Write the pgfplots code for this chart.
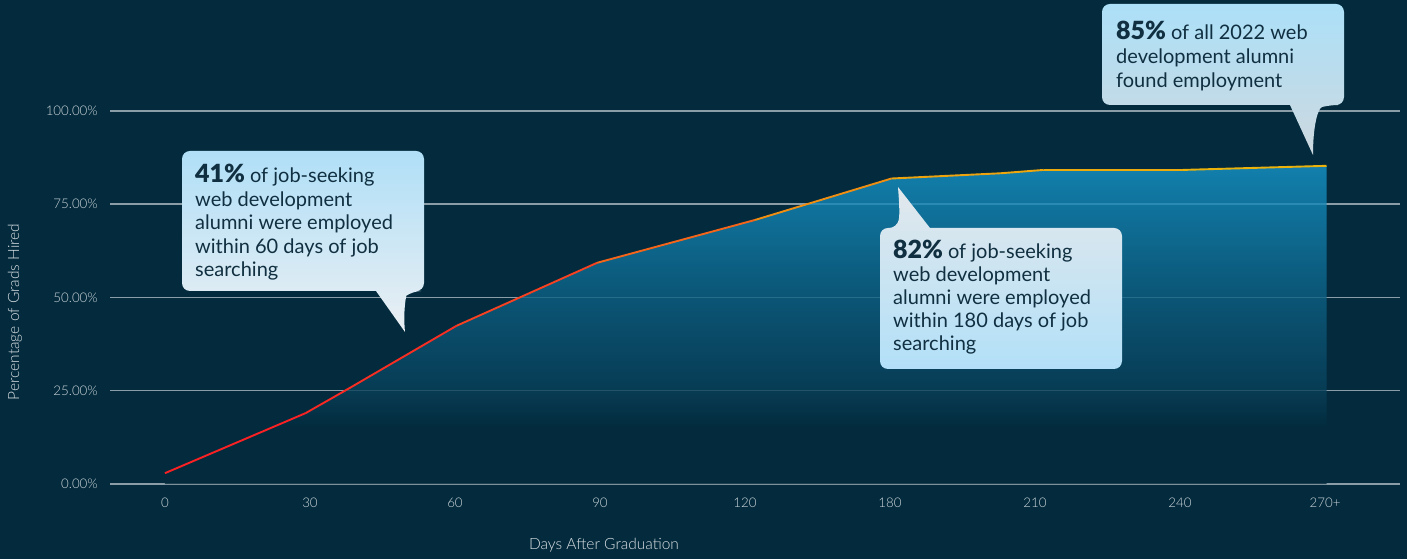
\documentclass[border=0pt]{standalone}
\usepackage{fontspec}
\setmainfont{Lato}
\newfontfamily\blk{Lato Black}
\newfontfamily\lgt{Lato Light}
\usepackage{pgfplots}
\pgfplotsset{compat=1.18}
\definecolor{bgc}{RGB}{3,43,61}
\definecolor{gridc}{RGB}{139,157,167}
\definecolor{tickc}{RGB}{205,214,219}
\definecolor{labc}{RGB}{220,226,230}
\definecolor{txtc}{RGB}{16,47,64}
\definecolor{fillTop}{RGB}{22,149,201}
\definecolor{fillMid}{RGB}{13,96,132}
\definecolor{fillLow}{RGB}{9,64,90}
\definecolor{cAtop}{RGB}{176,223,247}
\definecolor{cAbot}{RGB}{234,239,243}
\definecolor{cBtop}{RGB}{226,232,236}
\definecolor{cBbot}{RGB}{178,224,248}
\definecolor{cCtop}{RGB}{172,224,248}
\definecolor{cCbot}{RGB}{205,216,223}
\pgfdeclareverticalshading{areashade}{100bp}{color(0bp)=(bgc); color(33.8bp)=(bgc); color(39.7bp)=(fillLow); color(54.3bp)=(fillMid); color(75bp)=(fillTop); color(100bp)=(fillTop)}
\pgfplotsset{colormap={linecm}{rgb255(0cm)=(250,28,36); rgb255(2cm)=(248,50,34); rgb255(3cm)=(246,80,30); rgb255(5cm)=(238,160,15); rgb255(8cm)=(234,182,10)}}
\newcommand\cf{\fontsize{20bp}{23bp}\selectfont}
\newcommand\cb{\fontsize{25bp}{25bp}\selectfont\blk}
\begin{document}
\begin{tikzpicture}
\useasboundingbox[fill=bgc] (0,0) rectangle (1407bp,559bp);
\begin{axis}[
  at={(110bp,75bp)}, anchor=south west, scale only axis,
  width=1290bp, height=373bp,
  xmin=-0.379, xmax=8.517, ymin=0, ymax=100,
  axis line style={draw=none}, tick style={draw=none},
  xtick={0,1,2,3,4,5,6,7,8},
  xticklabels={0,30,60,90,120,180,210,240,270+},
  ytick={0,25,50,75,100},
  yticklabels={0.00\%,25.00\%,50.00\%,75.00\%,100.00\%},
  ymajorgrids, grid style={line width=1.5bp, draw=gridc},
  tick label style={font=\lgt\fontsize{13.3bp}{15bp}\selectfont, text=tickc, inner sep=0pt},
  yticklabel style={anchor=east, xshift=-12bp},
  xticklabel style={anchor=base, yshift=-23bp},
  point meta min=0, point meta max=8,
  clip=false,
]
\addplot[draw=none, shade, shading=areashade, fill opacity=0.8] coordinates {
(0,2.9) (0.97,19.0) (1.25,25.2) (2.01,42.4) (2.98,59.3) (4.07,70.8) (5.01,81.9) (5.76,83.3) (6.06,84.2) (7.02,84.2) (8.01,85.3)
} \closedcycle;
\addplot[mesh, colormap name=linecm, point meta=x, line width=1.9bp, line join=round] coordinates {
(0,2.9) (0.97,19.0) (1.25,25.2) (2.01,42.4) (2.98,59.3) (4.07,70.8) (5.01,81.9) (5.76,83.3) (6.06,84.2) (7.02,84.2) (8.01,85.3)
};
\end{axis}
\begin{scope}[x=1bp, y=-1bp, yshift=559bp]
\node[rotate=90, text=labc, font=\lgt\fontsize{15.5bp}{17bp}\selectfont] at (15,312) {Percentage of Grads Hired};
\node[anchor=base, text=labc, font=\lgt\fontsize{15.5bp}{17bp}\selectfont] at (604,550) {Days After Graduation};
% callout 1
\shade[top color=cAtop, bottom color=cAbot, rounded corners=8bp]
  (376,291) -- (182,291) -- (182,151) -- (424,151) -- (424,291) -- (413,291) [sharp corners]
  .. controls (406,296) and (403,312) .. (405,332) -- cycle;
\node[anchor=base west, inner sep=0pt, text=txtc] at (195,183) {{\cb 41\%}\hspace{5bp}{\cf of job-seeking}};
\node[anchor=base west, inner sep=0pt, text=txtc, font=\cf] at (195,206.5) {web development};
\node[anchor=base west, inner sep=0pt, text=txtc, font=\cf] at (195,230) {alumni were employed};
\node[anchor=base west, inner sep=0pt, text=txtc, font=\cf] at (195,253.5) {within 60 days of job};
\node[anchor=base west, inner sep=0pt, text=txtc, font=\cf] at (195,277) {searching};
% callout 2
\shade[top color=cBtop, bottom color=cBbot, rounded corners=8bp]
  (930,228) -- (1122,228) -- (1122,369) -- (880,369) -- (880,228) -- (897,228) [sharp corners]
  .. controls (900,214) and (899,200) .. (898,187) -- cycle;
\node[anchor=base west, inner sep=0pt, text=txtc] at (893,259) {{\cb 82\%}\hspace{5bp}{\cf of job-seeking}};
\node[anchor=base west, inner sep=0pt, text=txtc, font=\cf] at (893,282) {web development};
\node[anchor=base west, inner sep=0pt, text=txtc, font=\cf] at (893,305) {alumni were employed};
\node[anchor=base west, inner sep=0pt, text=txtc, font=\cf] at (893,328) {within 180 days of job};
\node[anchor=base west, inner sep=0pt, text=txtc, font=\cf] at (893,351) {searching};
% callout 3
\shade[top color=cCtop, bottom color=cCbot, rounded corners=8bp]
  (1290,105) -- (1102,105) -- (1102,4) -- (1344,4) -- (1344,105) -- (1330,105) [sharp corners]
  .. controls (1318,108) and (1313,125) .. (1313,155) -- cycle;
\node[anchor=base west, inner sep=0pt, text=txtc] at (1116,40) {{\cb 85\%}\hspace{5bp}{\cf of all 2022 web}};
\node[anchor=base west, inner sep=0pt, text=txtc, font=\cf] at (1116,64) {development alumni};
\node[anchor=base west, inner sep=0pt, text=txtc, font=\cf] at (1116,88) {found employment};
\end{scope}
\end{tikzpicture}
\end{document}
